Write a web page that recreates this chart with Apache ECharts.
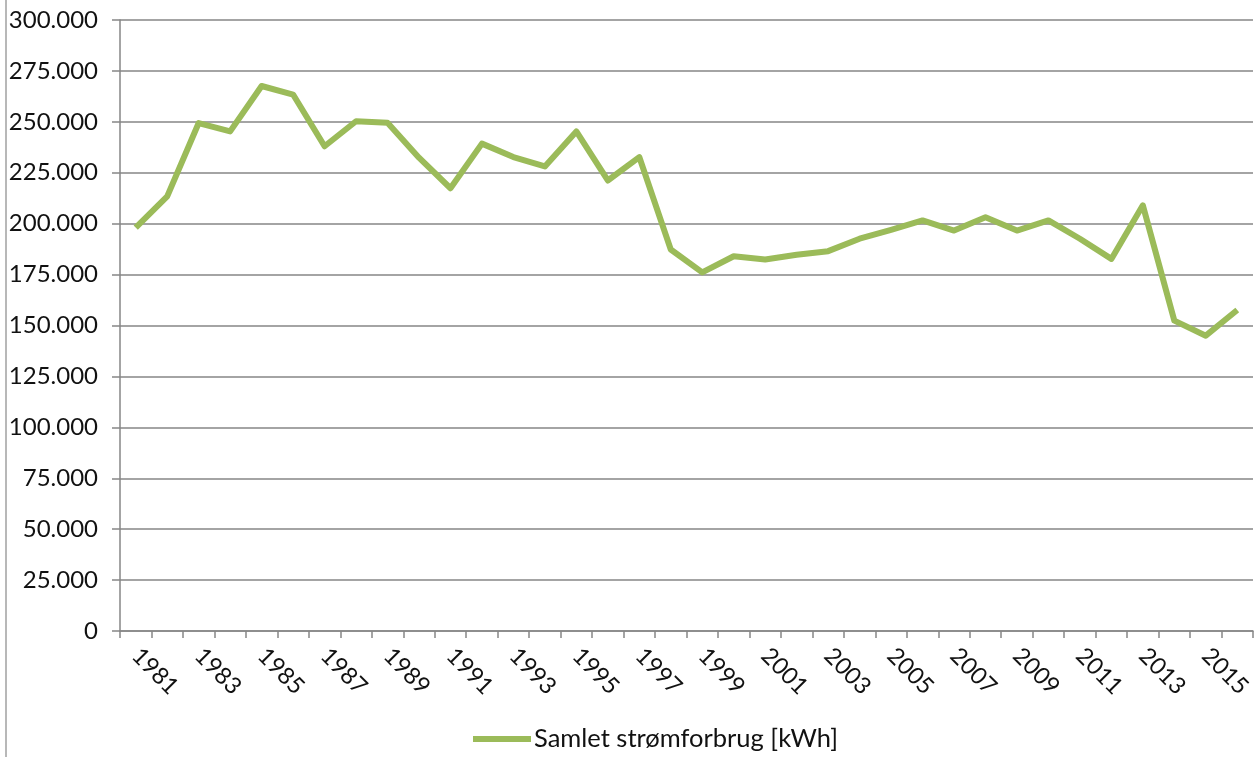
<!DOCTYPE html>
<html>
<head>
<meta charset="utf-8">
<script src="https://cdn.jsdelivr.net/npm/echarts@6/dist/echarts.min.js"></script>
<style>
html,body{margin:0;padding:0;background:#fff;}
#chart{width:1260px;height:757px;}
</style>
</head>
<body>
<div id="chart"></div>
<script>
const years = ['1981','1982','1983','1984','1985','1986','1987','1988','1989','1990','1991','1992','1993','1994','1995','1996','1997','1998','1999','2000','2001','2002','2003','2004','2005','2006','2007','2008','2009','2010','2011','2012','2013','2014','2015','2016'];
const consumption = [198000,213400,249400,245300,267600,263400,238000,250300,249600,232400,217400,239300,232700,228100,245300,221200,232700,187300,176100,184000,182400,184700,186500,192600,197000,201600,196600,203200,196600,201600,192600,182700,209000,152400,145000,157600];
const seriesName = 'Samlet strømforbrug [kWh]';
const yMin = 0, yMax = 300000, yStep = 25000;

function fmt(v){
  return String(Math.round(v)).replace(/\B(?=(\d{3})+(?!\d))/g, '.');
}

const chart = echarts.init(document.getElementById('chart'), null, {renderer:'canvas'});
const gray = '#868686';
const font = 'Lato, "Open Sans", sans-serif';
chart.setOption({
  animation:false,
  backgroundColor:'#fff',
  textStyle:{fontFamily:font},
  graphic:[{type:'line', shape:{x1:6,y1:0,x2:6,y2:757}, style:{stroke:'#a0a0a0', lineWidth:1.5}}],
  grid:{left:120,right:7,top:20,bottom:126,containLabel:false},
  legend:{
    data:[seriesName],
    bottom:0, left:468,
    itemWidth:58, itemHeight:6, itemGap:4,
    icon:'rect',
    textStyle:{fontSize:25.5,color:'#111',fontFamily:font,padding:[0,0,0,-2]}
  },
  xAxis:{
    type:'category',
    data:years,
    boundaryGap:true,
    axisLine:{show:true,lineStyle:{color:gray,width:1.5}},
    axisTick:{show:true,alignWithLabel:false,interval:0,length:7,lineStyle:{color:gray,width:1.5}},
    axisLabel:{interval:1,rotate:-45,margin:21,fontSize:23.5,color:'#111',fontFamily:font},
    splitLine:{show:false}
  },
  yAxis:{
    type:'value',
    min:yMin,max:yMax,interval:yStep,
    axisLine:{show:true,lineStyle:{color:gray,width:1.5}},
    axisTick:{show:true,length:8,lineStyle:{color:gray,width:1.5}},
    axisLabel:{margin:22,fontSize:24,color:'#111',fontFamily:font,formatter:fmt},
    splitLine:{show:true,lineStyle:{color:gray,width:1.5}}
  },
  series:[{
    name:seriesName,
    type:'line',
    data:consumption,
    symbol:'none',
    lineStyle:{color:'#9BBB59',width:6,join:'round'},
    itemStyle:{color:'#9BBB59'}
  }]
});
</script>
</body>
</html>
